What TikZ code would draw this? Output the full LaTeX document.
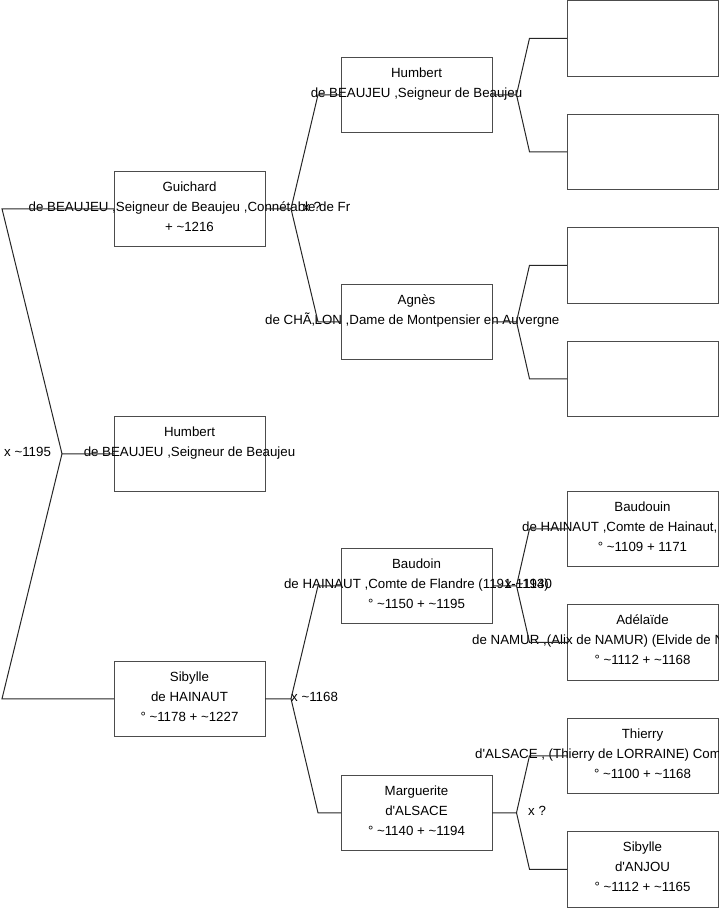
\documentclass[tikz,border=0pt]{standalone}
\usepackage{fontspec}
\setmainfont{Liberation Sans}
\newcommand\boxtext[4]{%
  \node[txt] (#1-a) at ([yshift=-20pt]#1.north) {#2};
  \node[txt] (#1-b) at ([yshift=-40pt]#1.north) {#3};
  \node[txt] (#1-c) at ([yshift=-60pt]#1.north) {#4};}
\begin{document}
\begin{tikzpicture}[x=1pt,y=-1pt,
  box/.style={draw=black!70, line width=1pt, minimum width=151pt, minimum height=75.5pt, inner sep=0pt, outer sep=0pt, anchor=north west},
  txt/.style={inner sep=0pt, anchor=base, font=\fontsize{13.3}{16}\selectfont},
  lbl/.style={inner sep=0pt, anchor=base west, font=\fontsize{13.3}{16}\selectfont},
  conn/.style={draw=black!85, line width=1pt}]
\useasboundingbox (0,0) rectangle (719,908);
% boxes
\node[box] (g)  at (114,171) {};
\node[box] (h)  at (114,416) {};
\node[box] (s)  at (114,661) {};
\node[box] (hb) at (341,57) {};
\node[box] (ag) at (341,284) {};
\node[box] (bd) at (341,548) {};
\node[box] (mg) at (341,775) {};
\node[box] (e1) at (567,0.5) {};
\node[box] (e2) at (567,114) {};
\node[box] (e3) at (567,227.5) {};
\node[box] (e4) at (567,341) {};
\node[box] (bh) at (567,491) {};
\node[box] (an) at (567,604.5) {};
\node[box] (th) at (567,718) {};
\node[box] (sa) at (567,831.5) {};
% texts
\boxtext{g}{Guichard}{de BEAUJEU ,Seigneur de Beaujeu ,Connétable de Fr}{+ \textasciitilde1216}
\boxtext{h}{Humbert}{de BEAUJEU ,Seigneur de Beaujeu}{}
\boxtext{s}{Sibylle}{de HAINAUT}{° \textasciitilde1178 + \textasciitilde1227}
\boxtext{hb}{Humbert}{de BEAUJEU ,Seigneur de Beaujeu}{}
\node[txt] (ag-a) at ([yshift=-20pt]ag.north) {Agnès};
\node[lbl] (ag-b) at (265,324) {de CHÃ‚LON ,Dame de Montpensier en Auvergne};
\boxtext{bd}{Baudoin}{de HAINAUT ,Comte de Flandre (1191-1194)}{° \textasciitilde1150 + \textasciitilde1195}
\boxtext{mg}{Marguerite}{d\textquotesingle ALSACE}{° \textasciitilde1140 + \textasciitilde1194}
\node[txt] (bh-a) at ([yshift=-20pt]bh.north) {Baudouin};
\node[lbl] (bh-b) at (522,531) {de HAINAUT ,Comte de Hainaut, 11};
\node[txt] (bh-c) at ([yshift=-60pt]bh.north) {° \textasciitilde1109 + 1171};
\node[txt] (an-a) at ([yshift=-20pt]an.north) {Adélaïde};
\node[lbl] (an-b) at (472,644.5) {de NAMUR ,(Alix de NAMUR) (Elvide de N};
\node[txt] (an-c) at ([yshift=-60pt]an.north) {° \textasciitilde1112 + \textasciitilde1168};
\node[txt] (th-a) at ([yshift=-20pt]th.north) {Thierry};
\node[lbl] (th-b) at (475,758) {d\textquotesingle ALSACE , (Thierry de LORRAINE) Com};
\node[txt] (th-c) at ([yshift=-60pt]th.north) {° \textasciitilde1100 + \textasciitilde1168};
\boxtext{sa}{Sibylle}{d\textquotesingle ANJOU}{° \textasciitilde1112 + \textasciitilde1165}
% fork coordinates
\coordinate (j0) at (62,453.75);
\coordinate (r1) at (2,208.75);
\coordinate (r2) at (2,698.75);
\coordinate (jg) at (291,208.75);
\coordinate (g1) at (318,94.75);
\coordinate (g2) at (318,321.75);
\coordinate (js) at (291,698.75);
\coordinate (s1) at (318,585.75);
\coordinate (s2) at (318,812.75);
\coordinate (jhb) at (516.5,94.75);
\coordinate (hb1) at (529.5,38.25);
\coordinate (hb2) at (529.5,151.75);
\coordinate (jag) at (516.5,321.75);
\coordinate (ag1) at (529.5,265.25);
\coordinate (ag2) at (529.5,378.75);
\coordinate (jbd) at (516.5,585.75);
\coordinate (bd1) at (529.5,528.75);
\coordinate (bd2) at (529.5,642.25);
\coordinate (jmg) at (516.5,812.75);
\coordinate (mg1) at (529.5,755.75);
\coordinate (mg2) at (529.5,869.25);
% connectors
\draw[conn] (h.west) -- (j0) -- (r1) -- (g.west);
\draw[conn] (j0) -- (r2) -- (s.west);
\draw[conn] (g.east) -- (jg) -- (g1) -- (hb.west);
\draw[conn] (jg) -- (g2) -- (ag.west);
\draw[conn] (s.east) -- (js) -- (s1) -- (bd.west);
\draw[conn] (js) -- (s2) -- (mg.west);
\draw[conn] (hb.east) -- (jhb) -- (hb1) -- (e1.west);
\draw[conn] (jhb) -- (hb2) -- (e2.west);
\draw[conn] (ag.east) -- (jag) -- (ag1) -- (e3.west);
\draw[conn] (jag) -- (ag2) -- (e4.west);
\draw[conn] (bd.east) -- (jbd) -- (bd1) -- (bh.west);
\draw[conn] (jbd) -- (bd2) -- (an.west);
\draw[conn] (mg.east) -- (jmg) -- (mg1) -- (th.west);
\draw[conn] (jmg) -- (mg2) -- (sa.west);
% marriage labels
\node[lbl] (x0) at (4,456) {x \textasciitilde1195};
\node[lbl] (xg) at (303,211) {x ?};
\node[lbl] (xs) at (291,701) {x \textasciitilde1168};
\node[lbl] (xb) at (505,588) {x \textasciitilde1130};
\node[lbl] (xm) at (528,815) {x ?};
\end{tikzpicture}
\end{document}
